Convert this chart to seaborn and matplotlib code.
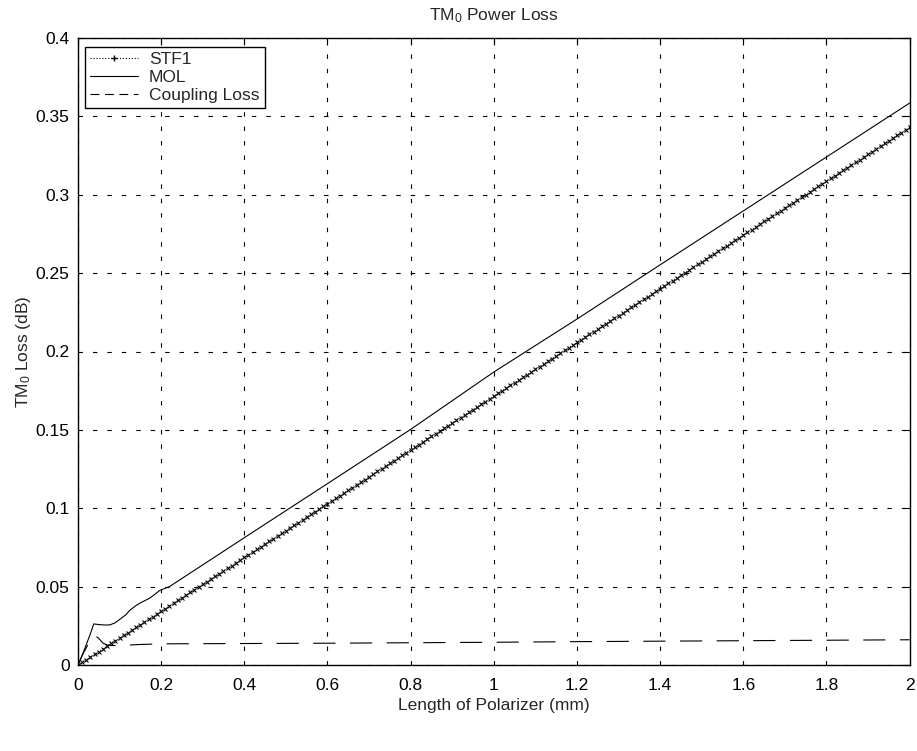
import numpy as np
import pandas as pd
import matplotlib
matplotlib.use("Agg")
import matplotlib.pyplot as plt
from matplotlib.lines import Line2D
from matplotlib.ticker import FuncFormatter
import seaborn as sns

# ---- data ----
stf1_x = np.linspace(0, 2, 201)
stf1_end = 0.343
stf1_y = stf1_end * stf1_x / 2.0

mol_x = [0.0, 0.01, 0.02, 0.03, 0.038, 0.05, 0.065, 0.077, 0.09, 0.10, 0.115, 0.125, 0.14, 0.15,
         0.173, 0.197, 0.22, 0.4, 0.6, 0.8, 1.0, 1.2, 1.4, 1.6, 1.8, 2.0]
mol_y = [0.0, 0.006, 0.013, 0.020, 0.0262, 0.0258, 0.0255, 0.0256, 0.027, 0.029, 0.032, 0.035, 0.038, 0.0396,
         0.0427, 0.0476, 0.050, 0.0812, 0.1157, 0.1503, 0.1869, 0.2207, 0.2553, 0.2897, 0.3241, 0.3585]

cpl_x = [0.0, 0.01, 0.02, 0.03, 0.04, 0.05, 0.06, 0.07, 0.08, 0.10, 0.12, 0.15, 0.2, 0.3, 0.4, 0.6,
         0.8, 1.0, 1.2, 1.4, 1.6, 1.8, 2.0]
cpl_y = [0.0, 0.006, 0.011, 0.016, 0.019, 0.017, 0.014, 0.0128, 0.0124, 0.0124, 0.0127, 0.0131, 0.0135, 0.0136,
         0.0137, 0.0139, 0.0142, 0.0145, 0.0149, 0.0152, 0.0155, 0.0158, 0.0161]

x_ticks = [0, 0.2, 0.4, 0.6, 0.8, 1.0, 1.2, 1.4, 1.6, 1.8, 2.0]
y_ticks = [0, 0.05, 0.1, 0.15, 0.2, 0.25, 0.3, 0.35, 0.4]

title = "TM$_0$ Power Loss"
xlabel = "Length of Polarizer (mm)"
ylabel = "TM$_0$ Loss (dB)"

# ---- style ----
sns.set_style("white")
plt.rcParams["font.family"] = ["Liberation Sans", "DejaVu Sans"]
plt.rcParams["mathtext.fontset"] = "custom"
plt.rcParams["mathtext.rm"] = "Liberation Sans"
plt.rcParams["mathtext.it"] = "Liberation Sans"
FS = 12.5
plt.rcParams["font.size"] = FS

fig = plt.figure(figsize=(9.17, 7.51), dpi=100)
ax = fig.add_axes([0.085, 1 - 665 / 751, 0.907, (665 - 38) / 751])

df_stf = pd.DataFrame({"x": stf1_x, "y": stf1_y})
df_mol = pd.DataFrame({"x": mol_x, "y": mol_y})
df_cpl = pd.DataFrame({"x": cpl_x, "y": cpl_y})

sns.lineplot(data=df_stf, x="x", y="y", ax=ax, color="black", estimator=None, sort=False)
stf_line = ax.lines[-1]
stf_line.set_linestyle(":")
stf_line.set_linewidth(0.8)
stf_line.set_color("#333333")
stf_line.set_marker("x")
stf_line.set_markersize(3.2)
stf_line.set_markeredgewidth(0.8)
stf_line.set_markeredgecolor("black")

sns.lineplot(data=df_mol, x="x", y="y", ax=ax, color="black", estimator=None, sort=False)
ax.lines[-1].set_linewidth(0.8)

sns.lineplot(data=df_cpl, x="x", y="y", ax=ax, color="black", estimator=None, sort=False)
ax.lines[-1].set_linewidth(0.8)
ax.lines[-1].set_dashes([20, 13])

ax.set_xlim(0, 2)
ax.set_ylim(0, 0.4)
ax.set_xticks(x_ticks)
ax.set_yticks(y_ticks)
fmt = FuncFormatter(lambda v, p: "%g" % round(v, 4))
ax.xaxis.set_major_formatter(fmt)
ax.yaxis.set_major_formatter(fmt)
ax.tick_params(direction="in", length=5, width=0.8, top=True, right=True,
               labelsize=FS, colors="black")
ax.tick_params(axis="x", pad=9)
ax.tick_params(axis="y", pad=6)
ax.grid(True, color="black", linestyle=(0, (4, 9)), linewidth=0.8)
for s in ax.spines.values():
    s.set_color("black")
    s.set_linewidth(1.0)

ax.set_title(title, fontsize=FS, pad=13)
ax.set_xlabel(xlabel, fontsize=FS, labelpad=4)
ax.set_ylabel(ylabel, fontsize=FS, labelpad=2)

handles = [
    Line2D([], [], color="black", linestyle=":", linewidth=0.8, marker="+", markersize=5),
    Line2D([], [], color="black", linestyle="-", linewidth=0.8),
    Line2D([], [], color="black", linestyle=(0, (8, 5)), linewidth=0.8),
]
leg = ax.legend(handles, ["STF1", "MOL", "Coupling Loss"], loc="upper left",
                bbox_to_anchor=(0.008, 0.986), fancybox=False, framealpha=1,
                edgecolor="black", fontsize=FS, handlelength=2.8, borderpad=0.3,
                labelspacing=0.15, handletextpad=0.6, borderaxespad=0)
leg.get_frame().set_linewidth(1.0)

fig.savefig("out.png", dpi=100)
